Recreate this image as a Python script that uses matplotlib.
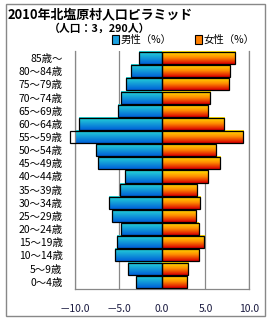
import matplotlib
matplotlib.use('Agg')
import matplotlib.pyplot as plt
from matplotlib.patches import Rectangle
import numpy as np

plt.rcParams['font.family'] = ['Noto Sans CJK JP', 'DejaVu Sans']

ageGroups = ['85歳～', '80～84歳', '75～79歳', '70～74歳', '65～69歳', '60～64歳',
             '55～59歳', '50～54歳', '45～49歳', '40～44歳', '35～39歳', '30～34歳',
             '25～29歳', '20～24歳', '15～19歳', '10～14歳', '5～9歳', '0～4歳']
male = [2.6, 3.6, 4.1, 4.7, 5.1, 9.5, 10.6, 7.55, 7.4, 4.3, 4.8, 6.05, 5.8, 4.7, 5.2, 5.4, 3.95, 2.95]
female = [8.4, 7.85, 7.7, 5.55, 5.3, 7.15, 9.35, 6.25, 6.7, 5.3, 4.0, 4.4, 3.95, 4.25, 4.85, 4.2, 3.0, 2.9]
xTicks = [-10, -5, 0, 5, 10]
xTickLabels = ['－10.0', '－5.0', '0.0', '5.0', '10.0']

maleTop, maleBottom = np.array([0.15, 0.85, 0.85]), np.array([0.0, 0.38, 0.85])
femaleColors = np.array([[1.0, 0.9, 0.0], [1.0, 0.55, 0.0], [0.85, 0.0, 0.0]])

def verticalGradient(stops, n=32):
    stops = np.atleast_2d(stops)
    pos = np.linspace(0, 1, len(stops))
    s = np.linspace(0, 1, n)
    rgb = np.stack([np.interp(s, pos, stops[:, c]) for c in range(3)], axis=1)
    return rgb[:, None, :]

maleGrad = verticalGradient(np.array([maleTop, maleBottom]))
femaleGrad = verticalGradient(femaleColors)

fig = plt.figure(figsize=(2.7, 3.2), dpi=100)
ax = fig.add_axes([0.278, 0.097, 0.644, 0.744])

y = np.arange(len(ageGroups))[::-1]
h = 0.92
for yi, m, f in zip(y, male, female):
    for left, width, grad in [(-m, m, maleGrad), (0, f, femaleGrad)]:
        bar = ax.barh(yi, width, left=left, height=h, color='none', edgecolor='black',
                      linewidth=0.9, zorder=3, clip_on=False)[0]
        im = ax.imshow(grad, extent=[left, left + width, yi - h/2, yi + h/2], origin='upper',
                       aspect='auto', zorder=2, interpolation='bilinear')
        im.set_clip_path(bar)
        im.set_clip_box(None)

ax.set_xlim(-10, 10)
ax.set_ylim(-0.55, len(ageGroups) - 0.45)
ax.set_xticks(xTicks)
ax.set_xticklabels(xTickLabels, fontsize=7.5, color='#1a1a40')
ax.set_yticks(y)
ax.set_yticklabels(ageGroups, fontsize=7.5)
ax.tick_params(length=0, pad=9)
ax.tick_params(axis='x', pad=11)
ax.grid(axis='x', color='#888888', linewidth=0.9, zorder=0)
ax.set_axisbelow(True)
ax.spines['top'].set_visible(False)
for s in ['left', 'right', 'bottom']:
    ax.spines[s].set_color('#888888')
    ax.spines[s].set_linewidth(0.9)

fig.text(0.03, 0.955, '2010年北塩原村人口ピラミッド', fontsize=9.3, fontweight='bold', va='center')
fig.text(0.37, 0.91, '（人口：3，290人）', fontsize=7.8, fontweight='bold', va='center', ha='center')

# legend
fig.patches.append(Rectangle((0.415, 0.862), 0.025, 0.028, transform=fig.transFigure,
                             facecolor='#1aa0e0', edgecolor='black', linewidth=0.8))
fig.text(0.447, 0.876, '男性（%）', fontsize=7.5, va='center')
fig.patches.append(Rectangle((0.722, 0.862), 0.025, 0.028, transform=fig.transFigure,
                             facecolor='#ff8000', edgecolor='black', linewidth=0.8))
fig.text(0.754, 0.876, '女性（%）', fontsize=7.5, va='center')

# outer frame
fig.patches.append(Rectangle((5.5/270, 1 - 315.5/320), 259.5/270, 312/320, transform=fig.transFigure,
                             facecolor='none', edgecolor='#888888', linewidth=1.0))

fig.savefig('out.png', dpi=100)
